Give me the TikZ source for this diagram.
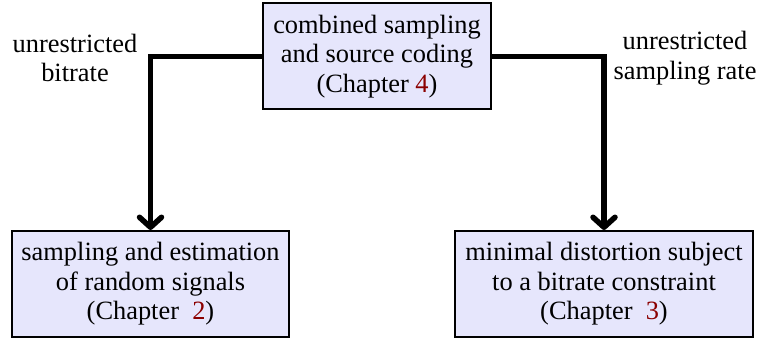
\documentclass[tikz,border=0pt]{standalone}
\usepackage{fontspec}
\setmainfont{Liberation Serif}
\usetikzlibrary{arrows.meta}
\definecolor{chapred}{RGB}{139,0,0}
\definecolor{boxfill}{RGB}{230,230,252}
\tikzset{
  chapbox/.style={draw, line width=2pt, fill=boxfill, align=center,
    inner sep=0pt, font=\fontsize{26.4}{29.5}\selectfont},
  caption/.style={align=center, inner sep=0pt, font=\fontsize{26.4}{29.5}\selectfont},
  conn/.style={line width=5.5pt, -{Straight Barb[length=10pt,width=22pt,round]}}
}
\begin{document}
\begin{tikzpicture}[x=1pt,y=-1pt]
  \useasboundingbox (0,0) rectangle (762,339);
  % chapter boxes
  \node[chapbox, minimum width=228pt, minimum height=106pt] (top) at (377,56.5)
    {combined sampling\\and source coding\\(Chapter \textcolor{chapred}{4})};
  \node[chapbox, minimum width=277pt, minimum height=106pt] (est) at (150.5,284)
    {sampling and estimation\\of random signals\\(Chapter~~\textcolor{chapred}{2})};
  \node[chapbox, minimum width=298pt, minimum height=106pt] (rd) at (604,284)
    {minimal distortion subject\\to a bitrate constraint\\(Chapter~~\textcolor{chapred}{3})};
  % branch labels
  \node[caption] (lbit) at (75,58) {unrestricted\\bitrate};
  \node[caption] (lrate) at (685,58) {unrestricted\\sampling rate};
  % connectors
  \draw[conn] (top.west) -| (est.north);
  \draw[conn] (top.east) -| (rd.north);
\end{tikzpicture}
\end{document}
